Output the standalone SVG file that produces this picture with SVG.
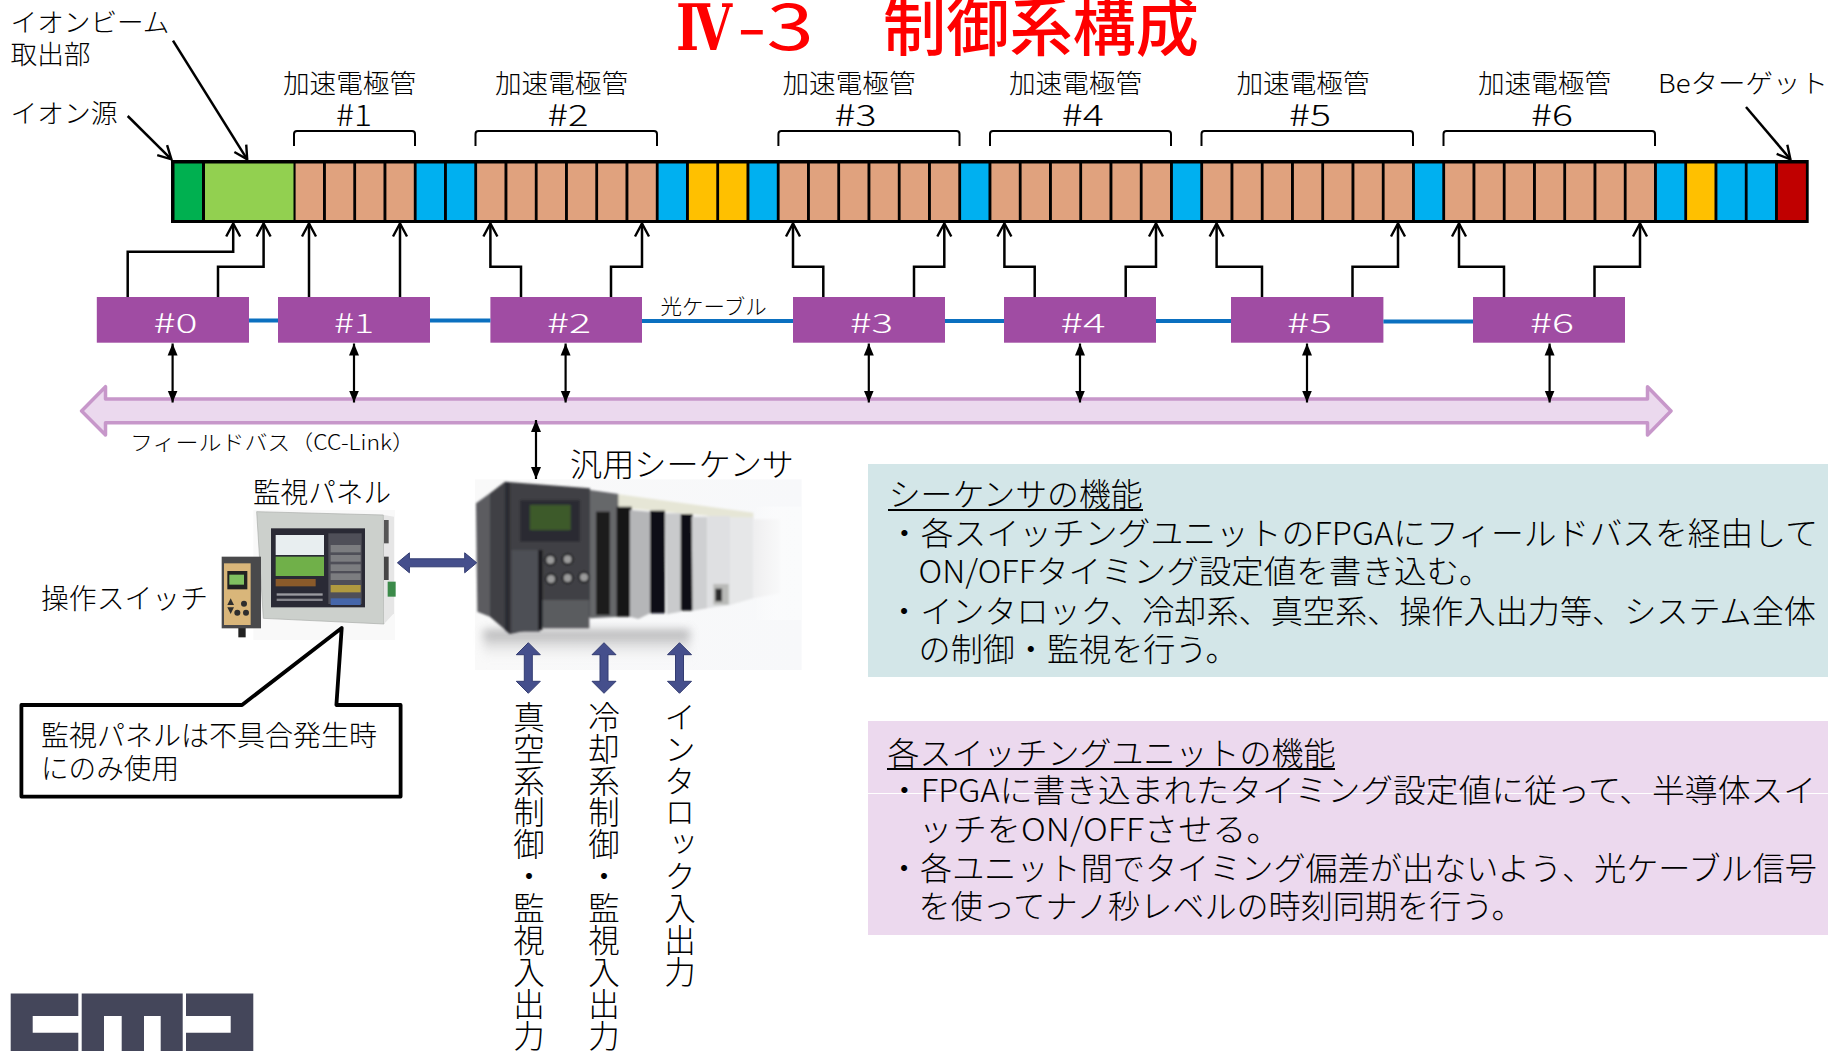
<svg xmlns="http://www.w3.org/2000/svg" width="1828" height="1051" viewBox="0 0 1828 1051">
<style>
text{font-family:"Noto Sans CJK JP","Noto Sans",sans-serif;fill:#000;font-weight:300}
.l26{font-size:26px}
.l21{font-size:21px}
.l28{font-size:28px}
.l32{font-size:32px}
.num{font-size:27px;fill:#fff;font-weight:300}
.num2{font-size:30px}
.v{font-size:31.5px;letter-spacing:.4px;writing-mode:vertical-rl;text-orientation:upright}
.title{font-size:64px;fill:#f00;font-weight:500}
.dg{fill:#00B050}.lg{fill:#92D050}.tan{fill:#E0A27E}.bl{fill:#00B0F0}.ye{fill:#FFC000}.rd{fill:#C00000}
.box{fill:#A04CA3}
.wire{fill:none;stroke:#000;stroke-width:2.5}
.open{marker-end:url(#open)}
.both{fill:none;stroke:#000;stroke-width:2.2;marker-start:url(#solid);marker-end:url(#solid)}
.fiber{stroke:#0B70C0;stroke-width:4;fill:none}
.brk{fill:none;stroke:#000;stroke-width:2}
.block{fill:#454F8C;stroke:#333C72;stroke-width:1}
.ul{stroke:#000;stroke-width:2}
.c rect{y:163.5px;width:27.4px;height:56.5px}
</style>
<defs>
<marker id="open" viewBox="-15 -9 17 18" refX="0" refY="0" markerWidth="17" markerHeight="18" markerUnits="userSpaceOnUse" orient="auto"><path d="M-13,-7 L0,0 L-13,7" fill="none" stroke="#000" stroke-width="2.4"/></marker>
<marker id="solid" viewBox="-12 -6 12 12" refX="0" refY="0" markerWidth="12" markerHeight="12" markerUnits="userSpaceOnUse" orient="auto-start-reverse"><path d="M-12,-5 L0,0 L-12,5Z" fill="#000"/></marker>
<linearGradient id="fade" x1="0" x2="1" y1="0" y2="0"><stop offset="0" stop-color="#fff" stop-opacity="0"/><stop offset=".7" stop-color="#fafbfc" stop-opacity=".95"/><stop offset="1" stop-color="#fafbfc"/></linearGradient>
<linearGradient id="refl" x1="0" x2="0" y1="0" y2="1"><stop offset="0" stop-color="#8e8e90"/><stop offset="1" stop-color="#fff" stop-opacity="0"/></linearGradient>
<linearGradient id="bgp" x1="0" x2="1" y1="0" y2="0"><stop offset="0" stop-color="#f9f9f9"/><stop offset="1" stop-color="#f7f8fa"/></linearGradient>
<filter id="soft" x="-5%" y="-5%" width="110%" height="110%"><feGaussianBlur stdDeviation="3"/></filter>
<filter id="softer" x="-5%" y="-5%" width="110%" height="110%"><feGaussianBlur stdDeviation="1.8"/></filter>
<filter id="wide" x="-20%" y="-60%" width="140%" height="220%"><feGaussianBlur stdDeviation="14"/></filter>
<path id="vblock" d="M0,0 L12,12 L4,12 V38.6 L12,38.6 L0,50.6 L-12,38.6 L-4,38.6 V12 L-12,12 Z"/>
</defs>
<rect width="1828" height="1051" fill="#fff"/>

<g id="title">
<text class="title" style="font-family:'DejaVu Serif','Noto Sans CJK JP',serif;font-weight:700" x="676" y="50" textLength="56" lengthAdjust="spacingAndGlyphs">Ⅳ</text>
<text class="title" style="font-weight:400" x="737" y="50" textLength="77" lengthAdjust="spacingAndGlyphs">-3</text>
<text class="title" x="883" y="50" textLength="316" lengthAdjust="spacingAndGlyphs">制御系構成</text>
</g>

<g id="info-sequencer">
<rect x="868" y="464" width="960" height="213" fill="#D3E6E8"/>
<text class="l32" x="888.7" y="506" textLength="254" lengthAdjust="spacingAndGlyphs">シーケンサの機能</text>
<line class="ul" x1="888" y1="510" x2="1143" y2="510"/>
<text class="l32" x="888" y="545" textLength="930" lengthAdjust="spacingAndGlyphs">・各スイッチングユニットのFPGAにフィールドバスを経由して</text>
<text class="l32" x="918.6" y="583" textLength="573" lengthAdjust="spacingAndGlyphs">ON/OFFタイミング設定値を書き込む。</text>
<text class="l32" x="888" y="623" textLength="928" lengthAdjust="spacingAndGlyphs">・インタロック、冷却系、真空系、操作入出力等、システム全体</text>
<text class="l32" x="918.6" y="661" textLength="319" lengthAdjust="spacingAndGlyphs">の制御・監視を行う。</text>
</g>
<g id="info-switching">
<rect x="868" y="721" width="960" height="214" fill="#ECD9EE"/>
<line x1="868" y1="793.5" x2="1828" y2="793.5" stroke="#fff" stroke-width="1"/>
<text class="l32" x="887.4" y="765" textLength="448" lengthAdjust="spacingAndGlyphs">各スイッチングユニットの機能</text>
<line class="ul" x1="887" y1="769" x2="1335" y2="769"/>
<text class="l32" x="888" y="802" textLength="928" lengthAdjust="spacingAndGlyphs">・FPGAに書き込まれたタイミング設定値に従って、半導体スイ</text>
<text class="l32" x="918.6" y="841" textLength="362" lengthAdjust="spacingAndGlyphs">ッチをON/OFFさせる。</text>
<text class="l32" x="888" y="880" textLength="929" lengthAdjust="spacingAndGlyphs">・各ユニット間でタイミング偏差が出ないよう、光ケーブル信号</text>
<text class="l32" x="918.6" y="918" textLength="605" lengthAdjust="spacingAndGlyphs">を使ってナノ秒レベルの時刻同期を行う。</text>
</g>

<g id="labels">
<text class="l26" x="10.5" y="32" textLength="159" lengthAdjust="spacingAndGlyphs">イオンビーム</text>
<text class="l26" x="10.5" y="64" textLength="80" lengthAdjust="spacingAndGlyphs">取出部</text>
<text class="l26" x="10.5" y="123" textLength="107" lengthAdjust="spacingAndGlyphs">イオン源</text>
<text class="l26" x="283" y="93" textLength="133" lengthAdjust="spacingAndGlyphs">加速電極管</text>
<text class="l26" x="495" y="93" textLength="133" lengthAdjust="spacingAndGlyphs">加速電極管</text>
<text class="l26" x="782.5" y="93" textLength="133" lengthAdjust="spacingAndGlyphs">加速電極管</text>
<text class="l26" x="1009" y="93" textLength="133" lengthAdjust="spacingAndGlyphs">加速電極管</text>
<text class="l26" x="1236.5" y="93" textLength="133" lengthAdjust="spacingAndGlyphs">加速電極管</text>
<text class="l26" x="1478" y="93" textLength="133" lengthAdjust="spacingAndGlyphs">加速電極管</text>
<text class="num2" x="336" y="126" textLength="36" lengthAdjust="spacingAndGlyphs">#1</text>
<text class="num2" x="547.5" y="126" textLength="41" lengthAdjust="spacingAndGlyphs">#2</text>
<text class="num2" x="834.6" y="126" textLength="42" lengthAdjust="spacingAndGlyphs">#3</text>
<text class="num2" x="1061.7" y="126" textLength="42" lengthAdjust="spacingAndGlyphs">#4</text>
<text class="num2" x="1289" y="126" textLength="42" lengthAdjust="spacingAndGlyphs">#5</text>
<text class="num2" x="1531" y="126" textLength="42" lengthAdjust="spacingAndGlyphs">#6</text>
<text class="l26" x="1658" y="93" textLength="170" lengthAdjust="spacingAndGlyphs">Beターゲット</text>
<text class="l21" x="660.6" y="314" textLength="106" lengthAdjust="spacingAndGlyphs">光ケーブル</text>
<text class="l21" x="130" y="450" textLength="285" lengthAdjust="spacingAndGlyphs">フィールドバス（CC-Link）</text>
<text class="l32" x="570" y="476" textLength="224" lengthAdjust="spacingAndGlyphs">汎用シーケンサ</text>
<text class="l28" x="253" y="503" textLength="138" lengthAdjust="spacingAndGlyphs">監視パネル</text>
<text class="l28" x="41" y="609" textLength="167" lengthAdjust="spacingAndGlyphs">操作スイッチ</text>
<text class="v" x="529" y="701">真空系制御・監視入出力</text>
<text class="v" x="604" y="701">冷却系制御・監視入出力</text>
<text class="v" x="680" y="701">インタロック入出力</text>
</g>

<g id="beamline">
<rect x="171" y="160" width="1637.7" height="63" fill="#000"/>
<rect class="dg" x="174.5" y="163.5" width="27.5" height="56.5"/>
<rect class="lg" x="205" y="163.5" width="88.5" height="56.5"/>
<g class="tan c">
<rect x="295.6"/><rect x="325.9"/><rect x="356.1"/><rect x="386.4"/>
<rect x="477.1"/><rect x="507.4"/><rect x="537.6"/><rect x="567.9"/><rect x="598.1"/><rect x="628.4"/>
<rect x="779.6"/><rect x="809.9"/><rect x="840.1"/><rect x="870.4"/><rect x="900.6"/><rect x="930.9"/>
<rect x="991.4"/><rect x="1021.6"/><rect x="1051.9"/><rect x="1082.1"/><rect x="1112.4"/><rect x="1142.6"/>
<rect x="1203.1"/><rect x="1233.4"/><rect x="1263.6"/><rect x="1293.9"/><rect x="1324.1"/><rect x="1354.4"/><rect x="1384.6"/>
<rect x="1445.1"/><rect x="1475.4"/><rect x="1505.6"/><rect x="1535.9"/><rect x="1566.1"/><rect x="1596.4"/><rect x="1626.6"/>
</g>
<g class="bl c">
<rect x="416.6"/><rect x="446.9"/><rect x="658.6"/><rect x="749.4"/><rect x="961.1"/><rect x="1172.9"/><rect x="1414.9"/><rect x="1656.9"/><rect x="1717.4"/><rect x="1747.6"/>
</g>
<g class="ye c">
<rect x="688.9"/><rect x="719.1"/><rect x="1687.1"/>
</g>
<rect class="rd" x="1777.9" y="163.5" width="28" height="56.5"/>
</g>

<g id="brackets">
<path class="brk" d="M294,146 V134 Q294,131 297,131 H412 Q415,131 415,134 V146"/>
<path class="brk" d="M475.5,146 V134 Q475.5,131 478.5,131 H654 Q657,131 657,134 V146"/>
<path class="brk" d="M778.4,146 V134 Q778.4,131 781.4,131 H956.5 Q959.5,131 959.5,134 V146"/>
<path class="brk" d="M990,146 V134 Q990,131 993,131 H1168 Q1171,131 1171,134 V146"/>
<path class="brk" d="M1201.5,146 V134 Q1201.5,131 1204.5,131 H1410 Q1413,131 1413,134 V146"/>
<path class="brk" d="M1443.5,146 V134 Q1443.5,131 1446.5,131 H1652 Q1655,131 1655,134 V146"/>
</g>

<g id="fieldbus">
<path d="M81.6,411 L105.5,386.7 V399 H1647.5 V386.7 L1671,411 L1647.5,435 V422.7 H105.5 V435 Z" fill="#EBD9EE" stroke="#C797CA" stroke-width="3.5" stroke-linejoin="round"/>
</g>

<g id="unit-0"><rect class="box" x="96.8" y="297" width="152.2" height="45.7"/><text class="num" x="153.5" y="333" textLength="44" lengthAdjust="spacingAndGlyphs">#0</text></g>
<g id="unit-1"><rect class="box" x="278" y="297" width="152" height="45.7"/><text class="num" x="334" y="333" textLength="40" lengthAdjust="spacingAndGlyphs">#1</text></g>
<g id="unit-2"><rect class="box" x="490.4" y="297" width="151.6" height="45.7"/><text class="num" x="547" y="333" textLength="44" lengthAdjust="spacingAndGlyphs">#2</text></g>
<g id="unit-3"><rect class="box" x="793" y="297" width="152" height="45.7"/><text class="num" x="850" y="333" textLength="43" lengthAdjust="spacingAndGlyphs">#3</text></g>
<g id="unit-4"><rect class="box" x="1004" y="297" width="152" height="45.7"/><text class="num" x="1060.5" y="333" textLength="45" lengthAdjust="spacingAndGlyphs">#4</text></g>
<g id="unit-5"><rect class="box" x="1231" y="297" width="152.4" height="45.7"/><text class="num" x="1287" y="333" textLength="45" lengthAdjust="spacingAndGlyphs">#5</text></g>
<g id="unit-6"><rect class="box" x="1473" y="297" width="152" height="45.7"/><text class="num" x="1530" y="333" textLength="44" lengthAdjust="spacingAndGlyphs">#6</text></g>

<g id="plc-photo" transform="translate(470 470) scale(.33333)">
<rect x="15" y="28" width="980" height="572" fill="url(#bgp)"/>
<rect x="40" y="480" width="620" height="100" fill="url(#refl)" filter="url(#wide)" opacity=".8"/>
<g filter="url(#soft)">
<path d="M440,72 L850,128 V150 L440,112Z" fill="#e6e6d6"/>
<path d="M18,100 L60,70 V440 L22,425Z" fill="#5b5c60"/>
<path d="M60,70 L105,35 L360,55 L365,440 L120,492 L60,440Z" fill="#3f4045"/>
<path d="M105,35 L120,40 V492 L105,480Z" fill="#2b2c30"/>
<rect x="150" y="90" width="180" height="125" fill="#2c2c30"/>
<rect x="180" y="105" width="122" height="75" fill="#3c5a2c"/>
<rect x="125" y="240" width="85" height="245" fill="#4e4f54"/>
<rect x="205" y="240" width="12" height="240" fill="#17171a"/>
<rect x="218" y="390" width="140" height="85" fill="#5a5b5f"/>
<g fill="#9b9b9b" stroke="#1e1e20" stroke-width="6"><circle cx="241" cy="270" r="15"/><circle cx="293" cy="268" r="15"/><circle cx="243" cy="327" r="15"/><circle cx="293" cy="324" r="15"/><circle cx="342" cy="322" r="15"/></g>
<path d="M360,60 L445,72 V440 L360,445Z" fill="#66676b"/>
<rect x="378" y="125" width="42" height="310" fill="#1c1c1f"/>
<path d="M440,110 H485 V440 H440Z" fill="#141416"/>
<path d="M480,120 L540,125 V430 L505,447 L480,440Z" fill="#b5b6b8"/>
<rect x="540" y="122" width="45" height="308" fill="#111113"/>
<path d="M585,130 H632 V425 L590,433Z" fill="#c9cacc"/>
<rect x="632" y="132" width="36" height="290" fill="#111113"/>
<path d="M665,140 H712 V415 L668,422Z" fill="#cfd0d2"/>
<path d="M712,138 H780 V405 L712,415Z" fill="#dfe0e2"/>
<path d="M780,142 H850 V385 L780,405Z" fill="#e6e7e8"/>
<path d="M850,148 H930 V370 L850,385Z" fill="#eeeeef"/>
<rect x="730" y="342" width="46" height="62" fill="#b9bab8"/>
<rect x="736" y="356" width="20" height="38" fill="#2a2a2c"/>
</g>
<rect x="850" y="110" width="145" height="340" fill="url(#fade)"/>
</g>

<g id="panel-photo" transform="translate(210 500) scale(.33333)">
<rect x="130" y="30" width="425" height="390" fill="#f9f9f9"/>
<g filter="url(#softer)">
<path d="M140,35 L520,45 L522,372 L160,355Z" fill="#ccd0cc" stroke="#a8aba8" stroke-width="2"/>
<path d="M522,45 L552,50 V340 L522,372Z" fill="#e6e6e6"/>
<rect x="522" y="60" width="14" height="70" fill="#555"/>
<rect x="522" y="170" width="14" height="70" fill="#444"/>
<rect x="533" y="245" width="24" height="45" fill="#3a8a4a"/>
<rect x="183" y="85" width="282" height="237" fill="#2a2a34"/>
<rect x="197" y="105" width="145" height="60" fill="#e8eef0"/>
<rect x="197" y="170" width="145" height="58" fill="#6fb04a"/>
<rect x="197" y="237" width="120" height="22" fill="#8a5a2a"/>
<rect x="200" y="280" width="138" height="7" fill="#9a9aa0"/>
<rect x="200" y="296" width="138" height="7" fill="#85858c"/>
<rect x="355" y="100" width="100" height="212" fill="#4f5058"/>
<g fill="#7c7d80"><rect x="362" y="135" width="90" height="22"/><rect x="362" y="165" width="90" height="20"/><rect x="362" y="193" width="90" height="20"/><rect x="362" y="220" width="90" height="20"/></g>
<rect x="362" y="255" width="90" height="22" fill="#b09a40"/>
<rect x="362" y="295" width="90" height="20" fill="#4466aa"/>
</g>
</g>

<g id="switch-photo" transform="translate(210 500) scale(.33333)">
<g filter="url(#softer)">
<rect x="85" y="380" width="22" height="32" fill="#222"/>
<rect x="35" y="170" width="118" height="215" fill="#4a4a4c"/>
<rect x="42" y="190" width="80" height="185" fill="#d9b67a"/>
<rect x="52" y="213" width="60" height="55" fill="#222"/>
<rect x="58" y="224" width="44" height="30" fill="#7fc060"/>
<g fill="#2d2d2d"><path d="M62,295 L72,315 H52Z"/><path d="M52,322 H72 L62,342Z"/><circle cx="102" cy="311" r="9"/><circle cx="82" cy="338" r="9"/><circle cx="108" cy="338" r="9"/></g>
</g>
</g>

<g id="callout">
<path d="M21.4,705 H242 L341.7,628 L336.4,705 H400.6 V796.6 H21.4 Z" fill="#fff" stroke="#000" stroke-width="3.8" stroke-linejoin="round"/>
<text class="l28" x="41" y="746" textLength="336" lengthAdjust="spacingAndGlyphs">監視パネルは不具合発生時</text>
<text class="l28" x="41" y="779" textLength="138" lengthAdjust="spacingAndGlyphs">にのみ使用</text>
</g>

<g id="logo" fill="#44465A">
<path d="M10.7,993.4 H78.3 V1016 H32.7 V1032.7 H78.3 V1051 H10.7 Z"/>
<path d="M81.7,993.4 H182.7 V1051 H160.7 V1016 H144 V1051 H121.7 V1016 H104 V1051 H81.7 Z"/>
<path d="M186,993.4 H253.3 V1051 H186 V1032.7 H230.7 V1016 H186 Z"/>
</g>

<g id="connectors">
<path class="fiber" d="M249,320.5 H278 M430,320.5 H490.4 M642,321 H793 M945,321 H1004 M1156,321 H1231 M1383.4,321.5 H1473"/>
<path class="wire open" d="M127.7,297 V251.7 H233.2 V223.5"/>
<path class="wire open" d="M218,297 V266.7 H263.6 V223.5"/>
<path class="wire open" d="M309,297 V223.5"/>
<path class="wire open" d="M400,297 V223.5"/>
<path class="wire open" d="M521,297 V266.7 H490.4 V223.5"/>
<path class="wire open" d="M611,297 V266.7 H642 V223.5"/>
<path class="wire open" d="M823.3,297 V266.7 H793 V223.5"/>
<path class="wire open" d="M914,297 V266.7 H944.3 V223.5"/>
<path class="wire open" d="M1034.7,297 V266.7 H1004.4 V223.5"/>
<path class="wire open" d="M1125.7,297 V266.7 H1156 V223.5"/>
<path class="wire open" d="M1262,297 V266.7 H1216.6 V223.5"/>
<path class="wire open" d="M1352.5,297 V266.7 H1398 V223.5"/>
<path class="wire open" d="M1504,297 V266.7 H1459 V223.5"/>
<path class="wire open" d="M1594.5,297 V266.7 H1640 V223.5"/>
<line class="wire open" x1="127.7" y1="116" x2="171.4" y2="159.3"/>
<line class="wire open" x1="173" y1="40.7" x2="247.2" y2="159.3"/>
<line class="wire open" x1="1746" y1="107" x2="1790.4" y2="159.3"/>
<line class="both" x1="172.6" y1="343.5" x2="172.6" y2="402.5"/>
<line class="both" x1="354" y1="343.5" x2="354" y2="402.5"/>
<line class="both" x1="565.6" y1="343.5" x2="565.6" y2="402.5"/>
<line class="both" x1="868.8" y1="343.5" x2="868.8" y2="402.5"/>
<line class="both" x1="1080" y1="343.5" x2="1080" y2="402.5"/>
<line class="both" x1="1307" y1="343.5" x2="1307" y2="402.5"/>
<line class="both" x1="1549.6" y1="343.5" x2="1549.6" y2="402.5"/>
<line class="both" x1="536" y1="420" x2="536" y2="479"/>
<path class="block" d="M397.4,562.8 L409.4,552.8 V558.8 H464.7 V552.8 L476.7,562.8 L464.7,572.8 V566.8 H409.4 V572.8 Z"/>
<use class="block" href="#vblock" x="528.3" y="642.7"/>
<use class="block" href="#vblock" x="604" y="642.7"/>
<use class="block" href="#vblock" x="679.5" y="642.7"/>
</g>
</svg>
